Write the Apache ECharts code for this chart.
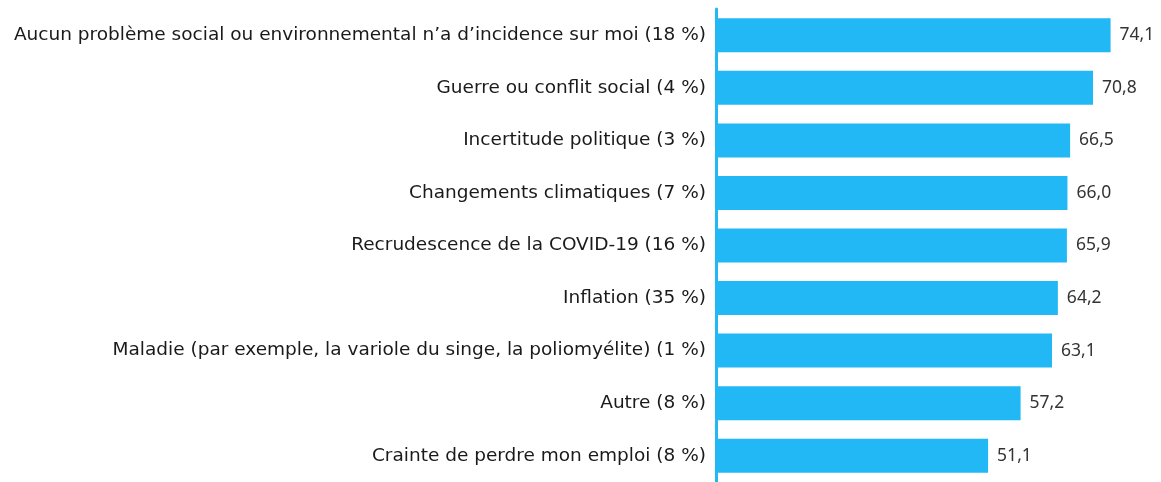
<!DOCTYPE html>
<html>
<head>
<meta charset="utf-8">
<script src="https://cdn.jsdelivr.net/npm/echarts@6/dist/echarts.min.js"></script>
<style>
html,body{margin:0;padding:0;background:#fff;}
#chart{width:1161px;height:482px;}
</style>
</head>
<body>
<div id="chart"></div>
<script>
var categories = [
    "Aucun problème social ou environnemental n’a d’incidence sur moi (18 %)",
    "Guerre ou conflit social (4 %)",
    "Incertitude politique (3 %)",
    "Changements climatiques (7 %)",
    "Recrudescence de la COVID-19 (16 %)",
    "Inflation (35 %)",
    "Maladie (par exemple, la variole du singe, la poliomyélite) (1 %)",
    "Autre (8 %)",
    "Crainte de perdre mon emploi (8 %)"
];
var values = [74.1, 70.8, 66.5, 66.0, 65.9, 64.2, 63.1, 57.2, 51.1];

var myChart = echarts.init(document.getElementById('chart'));
var option = {
    animation: false,
    grid: {
        left: 716,
        right: 19,
        top: 9,
        height: 478
    },
    xAxis: {
        type: 'value',
        min: 0,
        max: 80,
        show: false
    },
    yAxis: {
        type: 'category',
        inverse: true,
        data: categories,
        axisTick: {show: false},
        axisLine: {
            show: true,
            lineStyle: {color: '#22b8f5', width: 3}
        },
        axisLabel: {
            margin: 10,
            color: '#1a1a1a',
            fontFamily: 'DejaVu Sans',
            fontSize: 18.5
        }
    },
    series: [
        {
            type: 'bar',
            data: values,
            barWidth: 34,
            itemStyle: {color: '#22b8f5'},
            label: {
                show: true,
                position: 'right',
                distance: 9,
                color: '#333333',
                fontFamily: 'Noto Sans',
                fontSize: 17.5,
                formatter: function (a) {
                    return a.value.toFixed(1).replace('.', ',');
                }
            }
        }
    ]
};
myChart.setOption(option);
</script>
</body>
</html>
